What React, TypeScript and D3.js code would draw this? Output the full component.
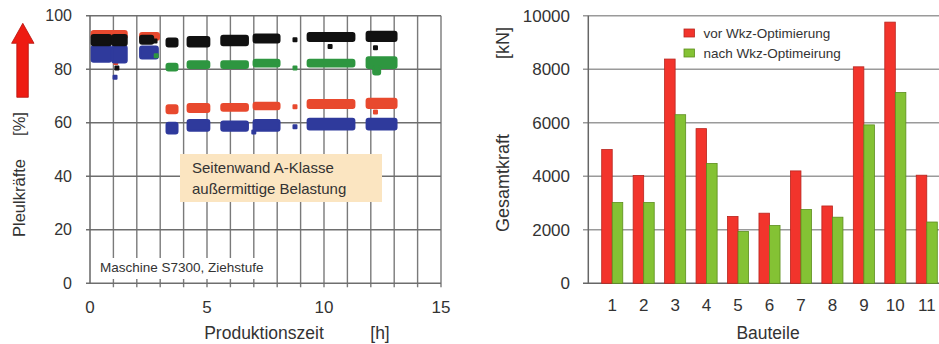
import * as d3 from "d3";

const W = 939;
const H = 344;
const FONT = "'Liberation Sans', Arial, sans-serif";
const INK = "#333";

// ---- linkes Diagramm: Pleulkräfte über Produktionszeit ----
// Punktwolken als Bänder: [t von, t bis, min %, max %]
type Band = [number, number, number, number];
type Pt = [number, number];

const redBands: Band[] = [
  [0.07, 1.57, 91.5, 94.3],
  [2.14, 2.95, 91, 93.5],
  [3.27, 3.74, 63.5, 66.5],
  [4.17, 5.1, 64, 67],
  [5.61, 6.75, 64.5, 67],
  [6.99, 8.1, 65, 67.5],
  [9.3, 11.3, 65.5, 68.5],
  [11.82, 13.1, 65.5, 69],
];
const redPts: Pt[] = [[8.76, 66], [12.2, 64], [1.1, 82.5]];

const blueBands: Band[] = [
  [0.07, 0.9, 82.8, 88.7],
  [0.95, 1.57, 82.5, 88.7],
  [2.14, 2.9, 84, 88.5],
  [3.27, 3.74, 56, 60],
  [4.17, 5.1, 57, 61],
  [5.61, 6.75, 57, 60.5],
  [6.99, 8.1, 57, 61],
  [9.3, 11.3, 57.5, 61.5],
  [11.82, 13.1, 57.5, 61.5],
];
const bluePts: Pt[] = [[8.76, 58.5], [1.07, 77], [7.0, 56.5]];

const greenBands: Band[] = [
  [3.27, 3.74, 79.5, 82],
  [4.17, 5.1, 80.5, 83],
  [5.61, 6.75, 80.5, 83],
  [6.99, 8.1, 81, 83.5],
  [9.3, 11.3, 81, 83.5],
  [11.82, 13.1, 80.5, 84.5],
  [12.1, 12.4, 78, 81],
];
const greenPts: Pt[] = [[8.76, 80.5], [2.83, 85]];

const blackBands: Band[] = [
  [0.07, 0.9, 89, 92.8],
  [0.95, 1.57, 89, 92.8],
  [2.14, 2.7, 89.5, 92.5],
  [3.27, 3.74, 88.5, 91.5],
  [4.17, 5.1, 88.5, 92],
  [5.61, 6.75, 89, 92.5],
  [6.99, 8.1, 90, 93],
  [9.3, 11.3, 90.5, 93.5],
  [11.82, 13.1, 90.5, 94],
];
const blackPts: Pt[] = [[2.78, 90.5], [8.76, 91], [1.15, 80.5], [10.26, 88.5], [12.2, 88]];

const scatterSeries = [
  { color: "#e8492e", bands: redBands, pts: redPts },
  { color: "#2f3a9c", bands: blueBands, pts: bluePts },
  { color: "#2e9640", bands: greenBands, pts: greenPts },
  { color: "#111111", bands: blackBands, pts: blackPts },
];

const leftYTicks = [0, 20, 40, 60, 80, 100];
const leftXTicks = [0, 5, 10, 15];
const leftGridX = d3.range(1, 16);

// ---- rechtes Diagramm: Gesamtkraft je Bauteil ----
const parts = ["1", "2", "3", "4", "5", "6", "7", "8", "9", "10", "11"];
const vorValues = [5000, 4030, 8380, 5780, 2500, 2620, 4200, 2890, 8090, 9760, 4040];
const nachValues = [3020, 3020, 6300, 4480, 1940, 2160, 2760, 2470, 5920, 7130, 2290];
const rightYTicks = [0, 2000, 4000, 6000, 8000, 10000];
const seriesNames = ["vor Wkz-Optimierung", "nach Wkz-Optimeirung"];
const barColors = ["#f2342c", "#84c234"];
const barStrokes = ["#b8261f", "#5c8e1d"];

export default function App() {
  const xL = d3.scaleLinear().domain([0, 15]).range([90, 441]);
  const yL = d3.scaleLinear().domain([0, 100]).range([283.3, 15.7]);

  const yR = d3.scaleLinear().domain([0, 10000]).range([283.3, 15.7]);
  const xR = d3
    .scaleBand<string>()
    .domain(parts)
    .range([596.5, 942.5])
    .paddingInner(0.33)
    .paddingOuter(0.165);
  const xSub = d3.scaleBand<number>().domain([0, 1]).range([0, xR.bandwidth()]);

  const barData = [vorValues, nachValues];

  return (
    <svg
      width={W}
      height={H}
      viewBox={`0 0 ${W} ${H}`}
      style={{ position: "absolute", left: 0, top: 0, background: "#fff" }}
      fontFamily={FONT}
    >
      {/* ===== links ===== */}
      <g>
        {leftGridX.map((t) => (
          <line
            key={"vx" + t}
            x1={xL(t)}
            x2={xL(t)}
            y1={yL(100)}
            y2={yL(0) + 4}
            stroke="#7a7a7a"
            strokeWidth={1.4}
          />
        ))}
        {leftYTicks.map((v) => (
          <line
            key={"hy" + v}
            x1={xL(0) - 4}
            x2={xL(15)}
            y1={yL(v)}
            y2={yL(v)}
            stroke="#6e6e6e"
            strokeWidth={1.4}
          />
        ))}
        <line x1={xL(0)} x2={xL(0)} y1={yL(100)} y2={yL(0)} stroke="#666" strokeWidth={1.5} />

        {/* Maschinen-Label mit weißem Hintergrund */}
        <rect x={xL(0) + 1.5} y={258} width={182} height={21} fill="#fff" />
        <text x={100} y={272} fontSize={13.5} fill={INK}>
          Maschine S7300, Ziehstufe
        </text>

        {scatterSeries.map((s, i) => (
          <g key={"s" + i} fill={s.color} stroke={s.color} strokeWidth={2} strokeLinejoin="round">
            {s.bands.map((b, j) => (
              <rect
                key={j}
                x={xL(b[0])}
                width={xL(b[1]) - xL(b[0])}
                y={yL(b[3])}
                height={yL(b[2]) - yL(b[3])}
                rx={2}
              />
            ))}
            {s.pts.map((p, j) => (
              <rect key={"p" + j} x={xL(p[0]) - 1.5} y={yL(p[1]) - 1.5} width={3} height={3} />
            ))}
          </g>
        ))}

        {/* Textbox */}
        <rect x={180} y={154} width={202} height={48} fill="#fbe5c1" />
        <text x={192} y={173} fontSize={15} fill={INK}>
          Seitenwand A-Klasse
        </text>
        <text x={192} y={194} fontSize={15} fill={INK}>
          außermittige Belastung
        </text>

        {leftYTicks.map((v) => (
          <text
            key={"ly" + v}
            x={72}
            y={yL(v)}
            dy="0.35em"
            textAnchor="end"
            fontSize={16}
            fill={INK}
          >
            {v}
          </text>
        ))}
        {leftXTicks.map((t) => (
          <text key={"lx" + t} x={xL(t)} y={313} textAnchor="middle" fontSize={17} fill={INK}>
            {t}
          </text>
        ))}
        <text x={264} y={339} textAnchor="middle" fontSize={17.5} fill={INK}>
          Produktionszeit
        </text>
        <text x={380} y={339} textAnchor="middle" fontSize={17.5} fill={INK}>
          [h]
        </text>
        <text
          transform="translate(25,198) rotate(-90)"
          textAnchor="middle"
          fontSize={16.5}
          fill={INK}
        >
          Pleulkräfte
        </text>
        <text
          transform="translate(25,124) rotate(-90)"
          textAnchor="middle"
          fontSize={16.5}
          fill={INK}
        >
          [%]
        </text>
        {/* roter Pfeil */}
        <path
          d="M22.8,23.3 L34,43.3 L28.3,43.3 L28.3,97.3 L16.8,97.3 L16.8,43.3 L11.6,43.3 Z"
          fill="#ee1b12"
          stroke="#b5130c"
          strokeWidth={0.8}
        />
      </g>

      {/* ===== rechts ===== */}
      <g>
        {rightYTicks.map((v) => (
          <line
            key={"ry" + v}
            x1={583}
            x2={W}
            y1={yR(v)}
            y2={yR(v)}
            stroke={v === 0 ? "#666" : "#9a9a9a"}
            strokeWidth={1.5}
          />
        ))}
        <line x1={588.3} x2={588.3} y1={yR(10000)} y2={yR(0)} stroke="#666" strokeWidth={1.5} />

        {barData.map((vals, si) => (
          <g key={"b" + si} fill={barColors[si]} stroke={barStrokes[si]} strokeWidth={0.8}>
            {parts.map((p, i) => (
              <rect
                key={p}
                x={(xR(p) ?? 0) + (xSub(si) ?? 0)}
                width={xSub.bandwidth()}
                y={yR(vals[i])}
                height={yR(0) - yR(vals[i])}
              />
            ))}
          </g>
        ))}

        {rightYTicks.map((v) => (
          <text
            key={"ryt" + v}
            x={570}
            y={yR(v)}
            dy="0.35em"
            textAnchor="end"
            fontSize={17}
            fill={INK}
          >
            {v}
          </text>
        ))}
        {parts.map((p) => (
          <text
            key={"rx" + p}
            x={(xR(p) ?? 0) + xR.bandwidth() / 2}
            y={311}
            textAnchor="middle"
            fontSize={17}
            fill={INK}
          >
            {p}
          </text>
        ))}
        <text x={768} y={339} textAnchor="middle" fontSize={17.5} fill={INK}>
          Bauteile
        </text>
        <text
          transform="translate(509,183) rotate(-90)"
          textAnchor="middle"
          fontSize={18}
          fill={INK}
        >
          Gesamtkraft
        </text>
        <text
          transform="translate(509,43) rotate(-90)"
          textAnchor="middle"
          fontSize={18}
          fill={INK}
        >
          [kN]
        </text>

        {seriesNames.map((n, i) => (
          <g key={n} transform={`translate(684,${29 + i * 20})`}>
            <rect width={10.5} height={8} fill={barColors[i]} stroke={barStrokes[i]} strokeWidth={0.8} />
            <text x={19.5} y={4} dy="0.35em" fontSize={13.5} fill={INK}>
              {n}
            </text>
          </g>
        ))}
      </g>
    </svg>
  );
}
